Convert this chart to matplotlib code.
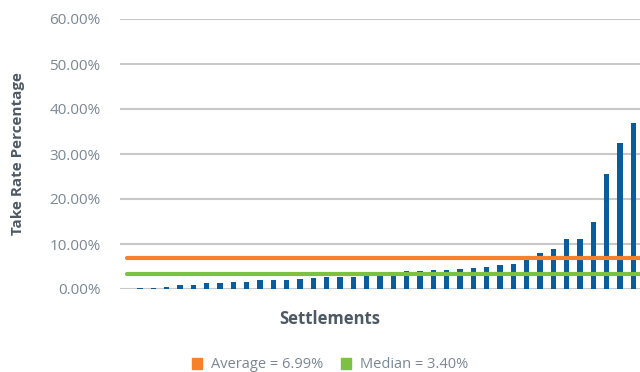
import matplotlib
matplotlib.use("Agg")
import matplotlib.pyplot as plt
from matplotlib.patches import Patch
from matplotlib.ticker import FuncFormatter

# Take rate (%) per settlement, sorted ascending
take_rates = [0.1, 0.2, 0.25, 0.4, 0.8, 1.0, 1.25, 1.25, 1.5, 1.5,
              1.9, 1.95, 2.1, 2.2, 2.4, 2.6, 2.65, 2.7, 3.2, 3.4,
              3.6, 4.0, 4.1, 4.2, 4.3, 4.4, 4.7, 4.9, 5.3, 5.6,
              6.7, 8.0, 8.9, 11.1, 11.1, 14.9, 25.6, 32.4, 36.9]
average_rate = 6.99
median_rate = 3.40
y_ticks = [0, 10, 20, 30, 40, 50, 60]

BAR = "#0a5c9c"
ORANGE = "#f5822a"
GREEN = "#7dc142"
GRID = "#c8c8c8"
TICK_TXT = "#7b8794"
LABEL_TXT = "#4d5964"

plt.rcParams["font.family"] = ["Open Sans", "DejaVu Sans"]

fig = plt.figure(figsize=(6.4, 3.72), dpi=100)
ax = fig.add_axes([120 / 640, 1 - 289 / 372, 520 / 640, 270 / 372])

x = list(range(len(take_rates)))
ax.bar(x, take_rates, width=0.38, color=BAR, zorder=2)

ax.plot([0, len(x) - 0.5], [average_rate, average_rate], color=ORANGE,
        lw=3, solid_capstyle="round", zorder=3)
ax.plot([0, len(x) - 0.5], [median_rate, median_rate], color=GREEN,
        lw=3, solid_capstyle="round", zorder=3)

ax.set_xlim(-0.5, len(x) - 0.5)
ax.set_ylim(0, 60)
ax.set_yticks(y_ticks)
ax.yaxis.set_major_formatter(FuncFormatter(lambda v, _: f"{v:.2f}%"))
ax.set_xticks([])
ax.grid(axis="y", color=GRID, lw=1.5, zorder=0)
for s in ax.spines.values():
    s.set_visible(False)
ax.tick_params(axis="y", length=0, pad=14, labelsize=11, labelcolor=TICK_TXT)

fig.text(18.5 / 640, 1 - 154 / 372, "Take Rate Percentage", rotation=90,
         ha="center", va="center", fontsize=11, fontweight="bold",
         color=LABEL_TXT)

fig.text(330 / 640, 1 - 319 / 372, "Settlements", ha="center", va="center",
         fontsize=12, fontweight="bold", color=LABEL_TXT)

handles = [Patch(color=ORANGE, label=f"Average = {average_rate:.2f}%"),
           Patch(color=GREEN, label=f"Median = {median_rate:.2f}%")]
fig.legend(handles=handles, loc="center", bbox_to_anchor=(330 / 640, 1 - 365 / 372),
           ncol=2, frameon=False, fontsize=10.5, labelcolor=TICK_TXT,
           handlelength=0.7, handleheight=0.7, handletextpad=0.6,
           columnspacing=1.2, borderaxespad=0)

fig.savefig("out.png", dpi=100)
